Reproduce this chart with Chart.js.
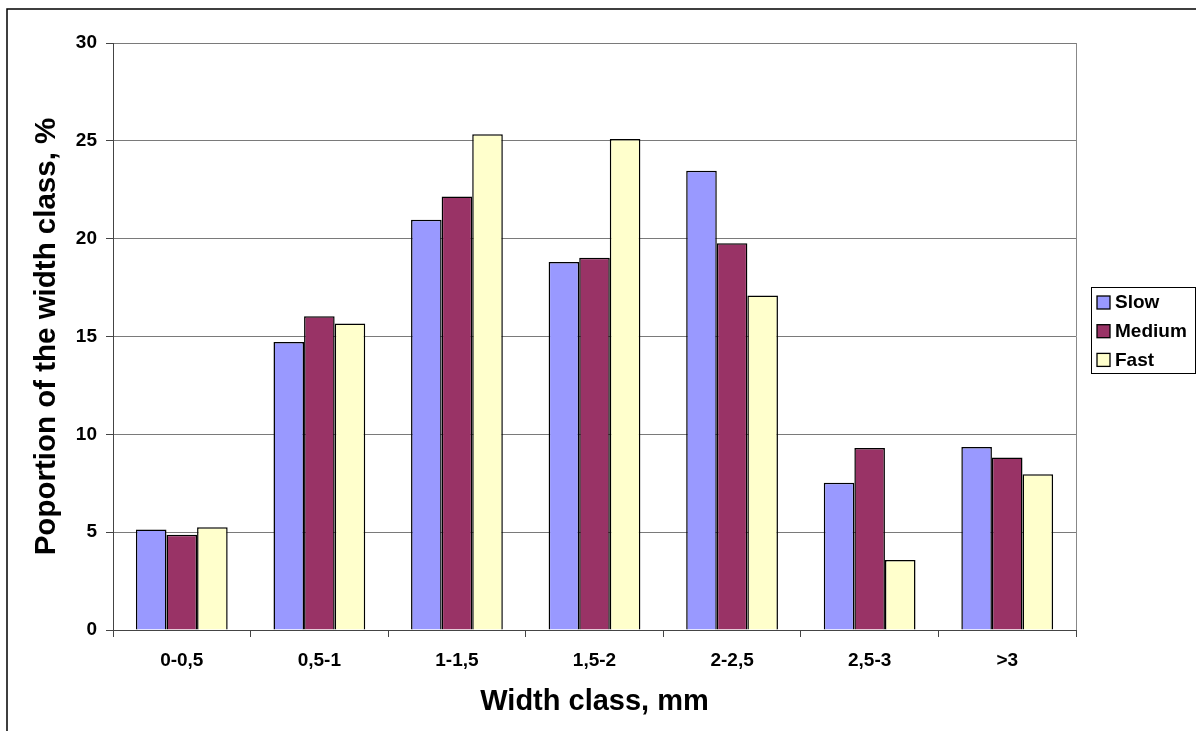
<!DOCTYPE html>
<html>
<head>
<meta charset="utf-8">
<script src="https://cdn.jsdelivr.net/npm/chart.js@4/dist/chart.umd.min.js"></script>
<style>
  html, body { margin: 0; padding: 0; background: #fff; }
  canvas { display: block; }
</style>
</head>
<body>
<canvas id="widthChart" width="1196" height="731"></canvas>
<script>
const widthClasses = ['0-0,5', '0,5-1', '1-1,5', '1,5-2', '2-2,5', '2,5-3', '>3']
const slowValues = [5.13, 14.72, 20.97, 18.81, 23.47, 7.53, 9.35]
const mediumValues = [4.87, 16.04, 22.16, 19.03, 19.76, 9.30, 8.81]
const fastValues = [5.25, 15.66, 25.34, 25.10, 17.09, 3.58, 7.96]

const FONT = "'Liberation Sans', Arial, sans-serif"

// outer frame, plot border on the right and a boxed legend like the Excel original
const framePlugin = {
  id: 'frame',
  beforeDraw (chart) {
    const ctx = chart.ctx
    ctx.save()
    ctx.strokeStyle = '#000'
    ctx.lineWidth = 1.5
    ctx.beginPath()
    ctx.moveTo(7, chart.height)
    ctx.lineTo(7, 9)
    ctx.lineTo(chart.width, 9)
    ctx.stroke()
    ctx.restore()
  },
  afterDraw (chart) {
    const ctx = chart.ctx
    const area = chart.chartArea
    ctx.save()
    ctx.strokeStyle = '#888'
    ctx.lineWidth = 1
    ctx.beginPath()
    ctx.moveTo(area.right + 0.5, area.top)
    ctx.lineTo(area.right + 0.5, area.bottom)
    ctx.stroke()

    // legend
    const box = { x: 1091, y: 287, w: 104, h: 86 }
    ctx.fillStyle = '#fff'
    ctx.fillRect(box.x, box.y, box.w, box.h)
    ctx.strokeStyle = '#000'
    ctx.lineWidth = 1
    ctx.strokeRect(box.x + 0.5, box.y + 0.5, box.w, box.h)
    ctx.font = 'bold 19px ' + FONT
    ctx.textBaseline = 'middle'
    chart.data.datasets.forEach((ds, i) => {
      const cy = 302 + i * 28.7
      ctx.fillStyle = ds.backgroundColor
      ctx.fillRect(1097, cy - 6, 13, 13)
      ctx.strokeStyle = '#000'
      ctx.lineWidth = 1.3
      ctx.strokeRect(1097, cy - 6, 13, 13)
      ctx.fillStyle = '#000'
      ctx.fillText(ds.label, 1115, cy + 1)
    })
    ctx.restore()
  }
}

const ctx = document.getElementById('widthChart').getContext('2d')
const widthChart = new Chart(ctx, {
  type: 'bar',
  data: {
    labels: widthClasses,
    datasets: [
      { label: 'Slow', data: slowValues, backgroundColor: '#9999FF' },
      { label: 'Medium', data: mediumValues, backgroundColor: '#993366' },
      { label: 'Fast', data: fastValues, backgroundColor: '#FFFFCC' }
    ]
  },
  options: {
    responsive: false,
    animation: false,
    layout: {
      padding: { top: 43, right: 120, left: 0, bottom: 0 }
    },
    datasets: {
      bar: {
        borderColor: '#000',
        borderWidth: 1.5,
        categoryPercentage: 0.667,
        barPercentage: 1
      }
    },
    scales: {
      x: {
        afterFit (scale) { scale.height = 101 },
        grid: {
          display: true,
          offset: true,
          drawOnChartArea: false,
          tickLength: 7,
          color: '#444'
        },
        border: { color: '#444', width: 1 },
        ticks: {
          color: '#000',
          padding: 12,
          font: { family: FONT, size: 19, weight: 'bold' }
        },
        title: {
          display: true,
          text: 'Width class, mm',
          color: '#000',
          padding: { top: 0, bottom: 12 },
          font: { family: FONT, size: 29, weight: 'bold' }
        }
      },
      y: {
        min: 0,
        max: 30,
        afterFit (scale) { scale.width = 113 },
        grid: {
          color: '#7a7a7a',
          tickColor: '#444',
          tickLength: 7
        },
        border: { color: '#444', width: 1 },
        ticks: {
          stepSize: 5,
          color: '#000',
          padding: 9,
          font: { family: FONT, size: 19, weight: 'bold' }
        },
        title: {
          display: true,
          text: 'Poportion of the width class, %',
          color: '#000',
          padding: { top: 29, bottom: 0 },
          font: { family: FONT, size: 29.5, weight: 'bold' }
        }
      }
    },
    plugins: {
      legend: { display: false },
      tooltip: { enabled: false }
    }
  },
  plugins: [framePlugin]
})
</script>
</body>
</html>
